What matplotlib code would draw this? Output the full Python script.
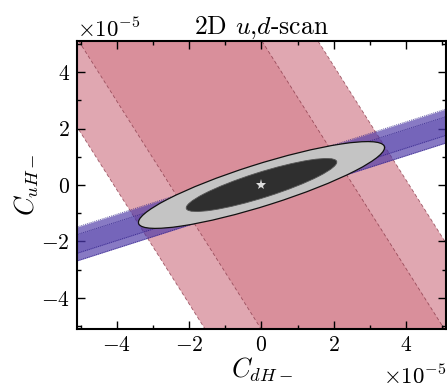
import numpy as np
import matplotlib
matplotlib.use("Agg")
import matplotlib.pyplot as plt
from matplotlib.patches import Ellipse
import matplotlib.transforms as mtransforms

plt.rcParams.update({
    "font.family": "serif",
    "font.serif": ["cmr10", "DejaVu Serif"],
    "mathtext.fontset": "cm",
    "axes.unicode_minus": False,
    "axes.formatter.use_mathtext": True,
    "font.size": 15.5,
})

SCALE = 1e-5
# axis range (units of 1e-5)
xlim = [-5.1, 5.1]
ylim = [-5.1, 5.1]

# red constraint (u,d combination): x + red_slope*y = c
red_slope = 0.494
red_1sigma = [-2.53, 2.53]
red_2sigma = [-4.08, 4.08]

# blue constraint: y = blue_slope*x + c
blue_slope = 0.41
blue_1sigma = [-0.33, 0.33]
blue_2sigma = [-0.60, 0.60]

# combined ellipses: (half-major, half-minor, angle deg)
ell_2sigma = [3.66, 0.725, 22.2]
ell_1sigma = [2.24, 0.44, 22.2]
best_fit = [0.0, 0.0]

fig = plt.figure(figsize=(4.47, 3.87), dpi=100)
ax = fig.add_axes([0.172, 0.150, 0.826, 0.744])

yy = np.linspace(-6, 6, 200)
xx = np.linspace(-6, 6, 200)

red_light = "#e0a7b1"
red_dark = "#d98f9b"
red_edge = "#8a3a4a"

ax.fill_betweenx(yy * SCALE, (red_2sigma[0] - red_slope * yy) * SCALE,
                 (red_2sigma[1] - red_slope * yy) * SCALE, color=red_light, lw=0, zorder=1)
ax.fill_betweenx(yy * SCALE, (red_1sigma[0] - red_slope * yy) * SCALE,
                 (red_1sigma[1] - red_slope * yy) * SCALE, color=red_dark, lw=0, zorder=1.1)
for c in red_1sigma + red_2sigma:
    ax.plot((c - red_slope * yy) * SCALE, yy * SCALE, ls=(0, (4, 3)), color=red_edge,
            lw=0.6, alpha=0.8, zorder=1.2)

blue_c = "#4a36a6"
blue_edge = "#241580"
ax.fill_between(xx * SCALE, (blue_slope * xx + blue_2sigma[0]) * SCALE,
                (blue_slope * xx + blue_2sigma[1]) * SCALE, color=blue_c, alpha=0.66, lw=0, zorder=2)
ax.fill_between(xx * SCALE, (blue_slope * xx + blue_1sigma[0]) * SCALE,
                (blue_slope * xx + blue_1sigma[1]) * SCALE, color=blue_c, alpha=0.3, lw=0, zorder=2.1)
for c in blue_1sigma + blue_2sigma:
    ax.plot(xx * SCALE, (blue_slope * xx + c) * SCALE, ls=(0, (1, 1)), color=blue_edge,
            lw=0.7, alpha=0.7, zorder=2.2)

a, b, ang = ell_2sigma
ax.add_patch(Ellipse((0, 0), 2 * a * SCALE, 2 * b * SCALE, angle=ang,
                     facecolor="#c4c4c4", edgecolor="#111111", lw=0.9, zorder=3))
a, b, ang = ell_1sigma
ax.add_patch(Ellipse((0, 0), 2 * a * SCALE, 2 * b * SCALE, angle=ang,
                     facecolor="#2f2f2f", edgecolor="#555555", lw=0.6, zorder=3.1))
ax.plot([best_fit[0] * SCALE], [best_fit[1] * SCALE], marker="*", color="#dddddd",
        ms=8, mew=0, zorder=4)

ax.set_xlim(xlim[0] * SCALE, xlim[1] * SCALE)
ax.set_ylim(ylim[0] * SCALE, ylim[1] * SCALE)
ax.set_xticks(np.arange(-4, 5, 2) * SCALE)
ax.set_yticks(np.arange(-4, 5, 2) * SCALE)
ax.set_xticks(np.arange(-5, 6, 1) * SCALE, minor=True)
ax.set_yticks(np.arange(-5, 6, 1) * SCALE, minor=True)
ax.tick_params(which="both", direction="in", top=True, right=True, width=1.0)
ax.tick_params(which="major", length=6, pad=5)
ax.tick_params(which="minor", length=3)
for s in ax.spines.values():
    s.set_linewidth(1.5)

ax.set_title(r"2D $u$,$d$-scan", fontsize=18.5, pad=4)
ax.set_xlabel(r"$C_{dH-}$", fontsize=19, labelpad=0)
ax.set_ylabel(r"$C_{uH-}$", fontsize=19, labelpad=0)

off = ax.xaxis.get_offset_text()
off.set_transform(mtransforms.blended_transform_factory(ax.transAxes, mtransforms.IdentityTransform())
                  + mtransforms.ScaledTranslation(0, -3 / 72, fig.dpi_scale_trans))
off.set_fontsize(16.5)
ax.yaxis.get_offset_text().set_fontsize(16.5)

fig.savefig("out.png", dpi=100)
